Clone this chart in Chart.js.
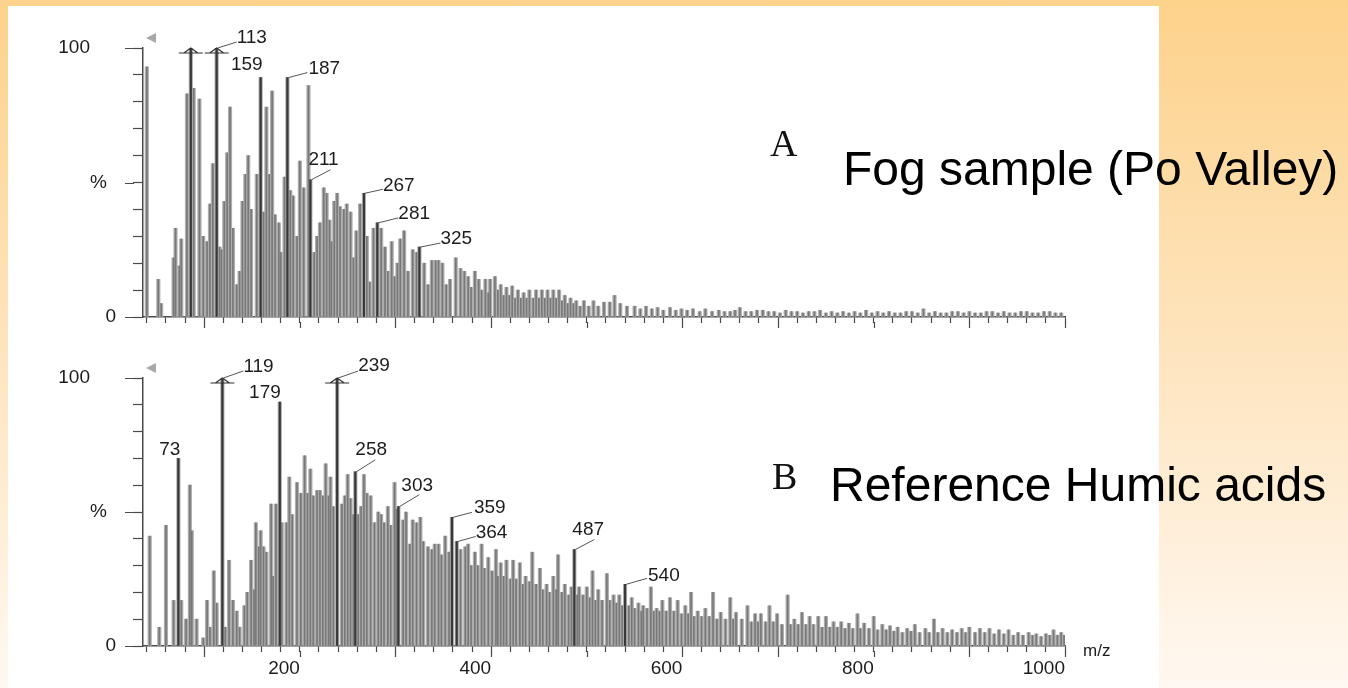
<!DOCTYPE html>
<html>
<head>
<meta charset="utf-8">
<script src="https://cdn.jsdelivr.net/npm/chart.js@4.4.1/dist/chart.umd.min.js"></script>
<style>
  html, body { margin: 0; padding: 0; }
  body {
    width: 1348px; height: 688px; overflow: hidden; position: relative;
    background: linear-gradient(to bottom, #fdd28b 0%, #fee4bd 50%, #fff8f1 100%);
    font-family: "Liberation Sans", Arial, sans-serif;
  }
  .sheet { position: absolute; left: 8px; top: 6px; width: 1151px; height: 682px; background: #fff; }
  canvas { position: absolute; left: 0; filter: blur(0.5px); }
  #fogChart { top: 0; }
  #humicChart { top: 340px; }
  .tag { position: absolute; font-family: "Liberation Serif", "Times New Roman", serif; font-size: 38px; line-height: 38px; color: #111; }
  .title { position: absolute; font-size: 48px; line-height: 48px; color: #000; white-space: nowrap; }
</style>
</head>
<body>
<div class="sheet"></div>
<canvas id="fogChart" width="1348" height="340"></canvas>
<canvas id="humicChart" width="1348" height="348"></canvas>
<div class="tag" style="left:770px; top:124px">A</div>
<div class="title" style="left:843px; top:145px">Fog sample (Po Valley)</div>
<div class="tag" style="left:772px; top:457px">B</div>
<div class="title" style="left:830px; top:461px">Reference Humic acids</div>
<script>
// m/z range and axis ticks shared by both spectra
const mzMin = 36;
const mzMax = 1000;
const mzMajorTicks = [100, 200, 300, 400, 500, 600, 700, 800, 900, 1000];
const mzTickLabels = [200, 400, 600, 800, 1000];

// fog water extract: [m/z, relative intensity %]
const fogPeaks = [
  [40, 93], [52, 14], [55, 5], [68, 22], [70, 33], [74, 19], [76, 29], [82, 83], [86, 100], [89, 85],
  [95, 81], [99, 30], [103, 28], [106, 42], [109, 57], [113, 100], [116, 26], [118, 25], [121, 43], [124, 61],
  [127, 78], [130, 33], [134, 12], [137, 17], [140, 43], [143, 53], [146, 60], [149, 40], [155, 53], [159, 89],
  [162, 39], [165, 78], [168, 53], [171, 84], [174, 38], [178, 35], [180, 24], [184, 52], [187, 89], [190, 47],
  [193, 45], [197, 30], [200, 58], [204, 48], [209, 86], [211, 51], [215, 24], [218, 30], [221, 35], [225, 48],
  [228, 46], [231, 36], [233, 28], [236, 43], [239, 46], [242, 41], [246, 40], [249, 42], [253, 39], [256, 22],
  [259, 32], [263, 42], [267, 46], [270, 30], [273, 13], [277, 33], [281, 35], [285, 33], [289, 26], [292, 17],
  [296, 28], [299, 15], [302, 20], [305, 29], [309, 32], [313, 17], [318, 25], [322, 24], [325, 26], [330, 20],
  [334, 12], [338, 21], [342, 21], [345, 21], [349, 20], [353, 12], [357, 14], [363, 22], [368, 18], [372, 17],
  [376, 15], [379, 11], [383, 17], [387, 14], [390, 10], [394, 14], [397, 9], [399, 14], [404, 15], [407, 10],
  [410, 12], [413, 8], [416, 11], [419, 8], [422, 11.5], [425, 7], [428, 10], [431, 7], [434, 9], [437, 7],
  [440, 10], [444, 7], [447, 10], [450, 7], [453, 10], [456, 7], [459, 10], [462, 7], [465, 10], [468, 7],
  [471, 10], [474, 6], [477, 8], [480, 5], [483, 7], [486, 5], [489, 6], [493, 4], [497, 6], [502, 4],
  [507, 6], [512, 4], [518, 5.5], [524, 5.5], [529, 8], [535, 5], [542, 4], [550, 4], [556, 3], [562, 4],
  [568, 3], [574, 3.5], [580, 2.5], [587, 3.5], [593, 2.5], [599, 3], [605, 2.5], [611, 3], [618, 2], [624, 3],
  [631, 2], [638, 2.5], [644, 2], [650, 2], [655, 2.5], [660, 3.5], [666, 2], [672, 2], [678, 2.5], [684, 2.5],
  [690, 2], [696, 2], [702, 1.5], [708, 2.5], [714, 2], [720, 2], [726, 1.5], [732, 2], [738, 2], [744, 2.5],
  [750, 1.5], [756, 2], [762, 1.5], [768, 2], [774, 1.5], [780, 2], [786, 1.5], [792, 2.5], [798, 1.5], [804, 2],
  [810, 1.5], [816, 2], [822, 1.5], [828, 1.5], [834, 2], [840, 2], [846, 1.5], [852, 3], [858, 1.5], [864, 2],
  [870, 1.5], [876, 1.5], [882, 2], [888, 2], [894, 1.5], [900, 2], [906, 1.5], [912, 1.5], [918, 2], [924, 2],
  [930, 1.5], [936, 2], [942, 1.5], [948, 1.5], [954, 2], [960, 2], [966, 1.5], [972, 1.5], [978, 2], [984, 2],
  [990, 1.5], [996, 1.5]
];
const fogLabelled = [113, 159, 187, 211, 267, 281, 325];
const fogOffScale = [86, 113];

// reference humic acids: [m/z, relative intensity %]
const humicPeaks = [
  [43, 41], [53, 7], [60, 45], [68, 17], [73, 70], [76, 17], [81, 10], [85, 60], [87, 43], [92, 10],
  [99, 3], [103, 17], [106, 7], [110, 28], [113, 16], [119, 100], [122, 7], [126, 32], [130, 17], [134, 13],
  [137, 7], [142, 15], [145, 20], [149, 32], [152, 21], [154, 46], [157, 37], [159, 43], [162, 37], [165, 35],
  [170, 53], [172, 26], [175, 53], [179, 91], [181, 46], [186, 46], [189, 63], [192, 49], [197, 61], [201, 57],
  [205, 71], [208, 57], [211, 66], [214, 56], [218, 58], [221, 58], [224, 56], [227, 68], [230, 56], [232, 63],
  [235, 52], [239, 100], [244, 53], [247, 56], [250, 64], [253, 55], [256, 49], [258, 65], [261, 49], [264, 52],
  [267, 64], [270, 57], [274, 56], [278, 46], [282, 50], [285, 49], [288, 46], [292, 52], [295, 45], [299, 61],
  [301, 51], [303, 52], [308, 47], [311, 50], [315, 38], [318, 47], [322, 46], [326, 48], [329, 39], [334, 37],
  [338, 36], [341, 38], [345, 38], [348, 34], [352, 41], [356, 35], [359, 48], [364, 39], [368, 36], [373, 37],
  [376, 38], [379, 30], [383, 35], [386, 30], [390, 38], [393, 29], [397, 33], [401, 28], [405, 36], [407, 26],
  [410, 31], [413, 26], [416, 32], [420, 25], [423, 32], [426, 25], [430, 31], [433, 23], [436, 26], [440, 24],
  [443, 35], [447, 23], [451, 29], [454, 21], [458, 23], [461, 20], [465, 26], [468, 21], [470, 34], [474, 20],
  [477, 23], [481, 19], [484, 22], [487, 36], [490, 19], [492, 22], [496, 19], [500, 22], [503, 18], [506, 28],
  [509, 17], [512, 21], [516, 17], [521, 27], [524, 17], [528, 19], [531, 16], [534, 19], [537, 15], [540, 23],
  [544, 15], [547, 18], [550, 14], [554, 16], [557, 13], [559, 15], [563, 14], [567, 22], [570, 13], [573, 14],
  [576, 13], [579, 17], [583, 13], [587, 18], [591, 13], [595, 17], [599, 12], [603, 15], [606, 12], [609, 20],
  [612, 11], [616, 13], [620, 11], [624, 14], [628, 11], [632, 20], [636, 10], [640, 12.5], [645, 10], [650, 18],
  [653, 10], [656, 12.5], [662, 10], [668, 15], [672, 9], [676, 12], [679, 9], [682, 12], [687, 9], [691, 15],
  [695, 9], [699, 12], [704, 8], [710, 19], [713, 8], [717, 10], [721, 8], [725, 12.5], [729, 8], [733, 11],
  [737, 8], [742, 11], [746, 7], [750, 11], [754, 7], [758, 9], [762, 7], [766, 9], [770, 6.5], [774, 8.5],
  [778, 6.5], [783, 12], [786, 6.5], [790, 8.5], [795, 6.5], [800, 11], [804, 6], [809, 8], [813, 6], [817, 7.5],
  [821, 5.5], [825, 7], [830, 5], [835, 6.5], [839, 5.5], [843, 8], [848, 5], [854, 6.5], [858, 5], [863, 10],
  [867, 5], [872, 6.5], [877, 5], [882, 6], [887, 5], [892, 6.5], [896, 5], [900, 7], [906, 5], [911, 6.5],
  [916, 5], [921, 6.5], [926, 4.5], [931, 6], [936, 4.5], [941, 6], [946, 4], [951, 5], [956, 4], [962, 5],
  [966, 4], [970, 4.5], [975, 3.5], [980, 4.5], [984, 4], [988, 6], [992, 4], [996, 5], [999, 4]
];
const humicLabelled = [73, 119, 179, 239, 258, 303, 359, 364, 487, 540];
const humicOffScale = [119, 239];

// label placement relative to the peak top: [dx, dy, textAlign, leader dx, leader dy]
const fogLabelLayout = {
  113: [20, -10, 'left', 20, -6],
  159: [2, -13, 'right', null, null],
  187: [21, -9, 'left', 20, -5],
  211: [-2, -20, 'left', 20, -10],
  267: [19, -7, 'left', 19, -4],
  281: [21, -9, 'left', 21, -5],
  325: [21, -8, 'left', 21, -4]
};
const humicLabelLayout = {
  73: [2, -9, 'right', null, null],
  119: [21, -11, 'left', 21, -7],
  179: [1, -9, 'right', null, null],
  239: [21, -12, 'left', 21, -7],
  258: [0, -22, 'left', 20, -12],
  303: [3, -21, 'left', 21, -12],
  359: [22, -10, 'left', 20, -5],
  364: [19, -9, 'left', 19, -5],
  487: [-2, -20, 'left', 20, -10],
  540: [23, -9, 'left', 22, -6]
};

const axisColor = '#4a4a4a';
const textColor = '#1c1c1c';
const peakBodyColor = '#adadad';
const peakCoreColor = '#787878';
const markedColor = '#383838';
Chart.defaults.font.family = '"Liberation Sans", Arial, sans-serif';

const minorTicks = [];
for (let v = 40; v <= mzMax; v += 20) minorTicks.push(v);

function peakValue(peaks, mz) {
  const hit = peaks.find(p => p[0] === mz);
  return hit ? hit[1] : 0;
}

// axis labels, long ticks, arrowheads and peak annotations
function makeDecor(spec) {
  return {
    id: 'spectrumDecor',
    afterDatasetsDraw(chart) {
      const { ctx, chartArea: area, scales: { x, y } } = chart;
      ctx.save();
      ctx.strokeStyle = axisColor;
      ctx.lineWidth = 1.2;
      ctx.beginPath();
      [0, 50, 100].forEach(v => {
        const py = Math.round(y.getPixelForValue(v)) + 0.5;
        ctx.moveTo(area.left - 18, py);
        ctx.lineTo(area.left - 9, py);
      });
      mzMajorTicks.forEach(v => {
        const px = Math.round(x.getPixelForValue(v)) + 0.5;
        ctx.moveTo(px, area.bottom + 5);
        ctx.lineTo(px, area.bottom + 11);
      });
      ctx.stroke();

      ctx.fillStyle = textColor;
      ctx.font = '19px "Liberation Sans"';
      ctx.textBaseline = 'middle';
      ctx.textAlign = 'right';
      ctx.fillText('100', area.left - 53, y.getPixelForValue(100));
      ctx.fillText('%', area.left - 36, y.getPixelForValue(50));
      ctx.fillText('0', area.left - 27, y.getPixelForValue(0));

      // small scan marker above the axis
      ctx.fillStyle = '#a8a8a8';
      ctx.beginPath();
      ctx.moveTo(area.left + 3, area.top - 10);
      ctx.lineTo(area.left + 13, area.top - 15);
      ctx.lineTo(area.left + 13, area.top - 5);
      ctx.closePath();
      ctx.fill();

      // off-scale peaks get an arrowhead at full scale
      ctx.strokeStyle = '#333';
      ctx.lineWidth = 1.2;
      spec.offScale.forEach(mz => {
        const px = x.getPixelForValue(mz);
        const py = area.top;
        ctx.beginPath();
        ctx.moveTo(px - 12, py + 5);
        ctx.lineTo(px + 12, py + 5);
        ctx.moveTo(px - 7, py + 5);
        ctx.lineTo(px, py);
        ctx.lineTo(px + 7, py + 5);
        ctx.stroke();
      });

      ctx.fillStyle = textColor;
      ctx.strokeStyle = '#555';
      ctx.lineWidth = 1;
      ctx.font = '19px "Liberation Sans"';
      spec.labelled.forEach(mz => {
        const px = x.getPixelForValue(mz);
        const py = y.getPixelForValue(Math.min(peakValue(spec.peaks, mz), 100));
        const [dx, dy, align, lx, ly] = spec.layout[mz];
        if (lx !== null) {
          ctx.beginPath();
          ctx.moveTo(px + 1, py);
          ctx.lineTo(px + lx, py + ly);
          ctx.stroke();
        }
        ctx.textAlign = align;
        ctx.fillText(String(mz), px + dx, py + dy);
      });

      if (spec.showMz) {
        ctx.textAlign = 'left';
        ctx.font = '17px "Liberation Sans"';
        ctx.fillText('m/z', x.getPixelForValue(mzMax) + 18, area.bottom + 5);
      }
      ctx.restore();
    }
  };
}

function buildSpectrum(canvasId, spec) {
  const marked = new Set([...spec.labelled, ...spec.offScale]);
  const allPoints = spec.peaks.map(([mz, pct]) => ({ x: mz, y: pct }));
  const markedPoints = spec.peaks.filter(([mz]) => marked.has(mz)).map(([mz, pct]) => ({ x: mz, y: pct }));

  return new Chart(document.getElementById(canvasId), {
    type: 'bar',
    data: {
      datasets: [
        { data: allPoints, backgroundColor: peakBodyColor, barThickness: 3.5, grouped: false, order: 3 },
        { data: allPoints, backgroundColor: peakCoreColor, barThickness: 1, grouped: false, order: 2 },
        { data: markedPoints, backgroundColor: markedColor, barThickness: 1.5, grouped: false, order: 1 }
      ]
    },
    options: {
      responsive: false,
      animation: false,
      events: [],
      layout: { padding: { left: 125, right: 283, top: spec.padTop, bottom: spec.padBottom } },
      plugins: { legend: { display: false }, tooltip: { enabled: false } },
      scales: {
        x: {
          type: 'linear',
          min: mzMin,
          max: mzMax,
          offset: false,
          grid: { offset: false, drawOnChartArea: false, tickLength: 6, tickColor: axisColor, tickWidth: 1.2 },
          border: { color: axisColor, width: 1.5 },
          afterBuildTicks: scale => { scale.ticks = minorTicks.map(v => ({ value: v })); },
          afterFit: scale => { scale.height = spec.xAxisHeight; },
          ticks: {
            display: spec.showMz,
            autoSkip: false,
            maxRotation: 0,
            align: 'end',
            padding: 5,
            color: textColor,
            font: { size: 19 },
            callback: v => (mzTickLabels.includes(v) ? String(v) : '')
          }
        },
        y: {
          min: 0,
          max: 100,
          grid: { drawOnChartArea: false, tickLength: 10, tickColor: axisColor, tickWidth: 1.2 },
          border: { color: axisColor, width: 1.5 },
          ticks: { display: false, stepSize: 10 },
          afterFit: scale => { scale.width = 18; }
        }
      }
    },
    plugins: [makeDecor(spec)]
  });
}

buildSpectrum('fogChart', {
  peaks: fogPeaks, labelled: fogLabelled, offScale: fogOffScale, layout: fogLabelLayout,
  padTop: 48, padBottom: 11, xAxisHeight: 12, showMz: false
});
buildSpectrum('humicChart', {
  peaks: humicPeaks, labelled: humicLabelled, offScale: humicOffScale, layout: humicLabelLayout,
  padTop: 38, padBottom: 12, xAxisHeight: 30, showMz: true
});
</script>
</body>
</html>
